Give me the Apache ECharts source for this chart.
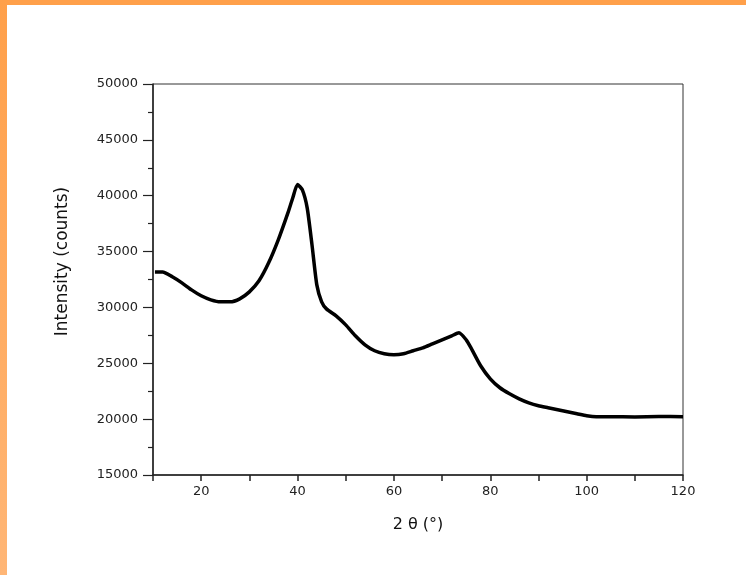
<!DOCTYPE html>
<html>
<head>
<meta charset="utf-8">
<script src="https://cdn.jsdelivr.net/npm/echarts@6/dist/echarts.min.js"></script>
<style>
  html, body { margin: 0; padding: 0; background: #fff; }
  #chart { width: 746px; height: 575px; }
</style>
</head>
<body>
<div id="chart"></div>
<script>
// Diffraction angle 2θ (degrees)
var twoTheta = [10.4, 12, 14, 16, 18, 20, 22, 24, 26, 28, 30, 32, 34, 36, 38, 39, 40, 41, 42, 43, 44, 45, 46, 48, 50,
  52, 54, 56, 58, 60, 62, 64, 66, 68, 70, 72, 73.5, 75, 76, 78, 80, 82, 84, 86, 88, 90, 92, 94, 96, 98, 100,
  102, 105, 110, 115, 120];
// Measured intensity (counts)
var intensity = [33180, 33180, 32740, 32200, 31570, 31040, 30680, 30500, 30500, 30770, 31390, 32380, 33990, 36050,
  38460, 39800, 41000, 40520, 38910, 35600, 32020, 30500, 29870, 29250, 28440,
  27460, 26650, 26120, 25850, 25760, 25850, 26120, 26380, 26740, 27100, 27460, 27730, 27100, 26380, 24780,
  23610, 22810, 22270, 21820, 21460, 21200, 21020, 20840, 20660, 20480, 20300,
  20210, 20210, 20200, 20230, 20220];
var xTickLabels = [20, 40, 60, 80, 100, 120];

var points = twoTheta.map(function (t, i) { return [t, intensity[i]]; });

var tickFont = 'DejaVu Sans';

var chart = echarts.init(document.getElementById('chart'));
chart.setOption({
  animation: false,
  backgroundColor: '#ffffff',
  graphic: [
    { type: 'rect', left: 0, top: 0, shape: { width: 746, height: 5 }, style: { fill: '#ffa04a' }, z: 100 },
    {
      type: 'rect', left: 0, top: 0, shape: { width: 7, height: 575 },
      style: {
        fill: { type: 'linear', x: 0, y: 0, x2: 0, y2: 1,
          colorStops: [{ offset: 0, color: '#ffa04a' }, { offset: 1, color: '#ffb676' }] }
      }, z: 100
    }
  ],
  grid: {
    left: 153, right: 63, top: 84, bottom: 100,
    show: true, borderColor: '#333', borderWidth: 1
  },
  xAxis: {
    type: 'value', min: 10, max: 120, interval: 10,
    name: '2 θ (°)', nameLocation: 'middle', nameGap: 42,
    nameTextStyle: { fontFamily: tickFont, fontSize: 16, color: '#111' },
    axisLine: { onZero: false, lineStyle: { color: '#222', width: 1.5 } },
    axisTick: { inside: false, length: 6, lineStyle: { color: '#222', width: 1.5 } },
    axisLabel: {
      fontFamily: tickFont, fontSize: 13, color: '#222', margin: 10,
      formatter: function (v) { return xTickLabels.indexOf(v) >= 0 ? String(v) : ''; }
    },
    splitLine: { show: false }
  },
  yAxis: {
    type: 'value', min: 15000, max: 50000, interval: 5000,
    name: 'Intensity (counts)', nameLocation: 'middle', nameGap: 82, nameRotate: 90,
    nameTextStyle: { fontFamily: tickFont, fontSize: 17, color: '#111', padding: [0, 0, 0, 36] },
    axisLine: { show: true, lineStyle: { color: '#222', width: 1.5 } },
    axisTick: { inside: false, length: 10, lineStyle: { color: '#222', width: 1.2 } },
    minorTick: { show: true, splitNumber: 2, length: 5, lineStyle: { color: '#222', width: 1.2 } },
    axisLabel: {
      fontFamily: tickFont, fontSize: 13, color: '#222', margin: 15,
      formatter: function (v) { return String(v); }
    },
    splitLine: { show: false }
  },
  series: [{
    type: 'line',
    data: points,
    showSymbol: false,
    smooth: 0.2,
    lineStyle: { color: '#000', width: 3.5 }
  }]
});
</script>
</body>
</html>
